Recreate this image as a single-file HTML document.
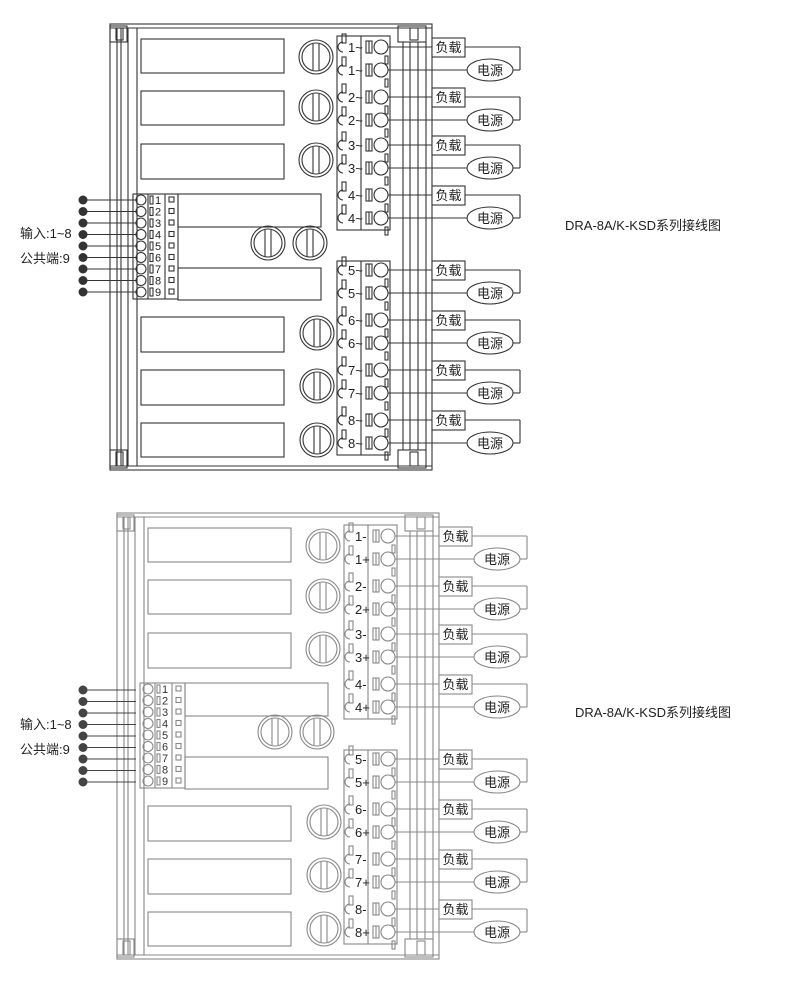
<!DOCTYPE html>
<html><head><meta charset="utf-8"><style>
body{margin:0;background:#fff;}
svg{display:block;font-family:"Liberation Sans","Noto Sans CJK SC",sans-serif;}
</style></head><body>
<svg width="790" height="999" viewBox="0 0 790 999" xmlns="http://www.w3.org/2000/svg">
<defs>
<g id="case" fill="none">
  <!-- outer case -->
  <rect x="110" y="24" width="322" height="446"/>
  <line x1="110" y1="28" x2="432" y2="28"/>
  <line x1="110" y1="466" x2="432" y2="466"/>
  <line x1="117" y1="28" x2="117" y2="466"/>
  <line x1="121" y1="28" x2="121" y2="466"/>
  <line x1="128" y1="28" x2="128" y2="466"/>
  <line x1="137" y1="28" x2="137" y2="466"/>
  <rect x="110" y="26" width="17" height="16"/>
  <rect x="116" y="28" width="7" height="12"/>
  <rect x="110" y="450" width="17" height="18"/>
  <rect x="116" y="452" width="7" height="14"/>
  <rect x="398" y="26" width="28" height="16"/>
  <rect x="410" y="28" width="8" height="12"/>
  <rect x="398" y="450" width="28" height="18"/>
  <rect x="410" y="452" width="8" height="14"/>
  <line x1="403" y1="42" x2="403" y2="450"/>
  <line x1="410" y1="42" x2="410" y2="450"/>
  <line x1="418" y1="42" x2="418" y2="450"/>
  <line x1="426" y1="42" x2="426" y2="450"/>
  <!-- relays -->
  <rect x="141" y="39" width="143" height="34"/>
  <rect x="141" y="91" width="143" height="34"/>
  <rect x="141" y="144" width="143" height="35"/>
  <rect x="141" y="317" width="143" height="35"/>
  <rect x="141" y="370" width="143" height="35"/>
  <rect x="141" y="423" width="143" height="34"/>
  <rect x="178" y="194" width="143" height="33"/>
  <rect x="178" y="268" width="143" height="32"/>
  <!-- knobs -->
  <g id="k"><circle cx="316" cy="57" r="17"/><circle cx="316" cy="57" r="14"/><line x1="313" y1="44" x2="313" y2="70"/><line x1="319" y1="44" x2="319" y2="70"/></g>
  <use href="#k" y="50"/><use href="#k" y="103"/>
  <use href="#k" x="1" y="276"/><use href="#k" x="1" y="329"/><use href="#k" x="1" y="383"/>
  <use href="#k" x="-48" y="186"/><use href="#k" x="-6" y="186"/>
  <!-- input block -->
  <rect x="133" y="194" width="45" height="105"/>
  <line x1="148" y1="194" x2="148" y2="299"/>
  <line x1="165" y1="194" x2="165" y2="299"/>
  <!-- right terminal blocks -->
  <rect x="337" y="36" width="53" height="194"/>
  <rect x="337" y="261" width="53" height="194"/>
  <line x1="361" y1="36" x2="361" y2="230"/>
  <line x1="361" y1="261" x2="361" y2="455"/>
</g>
<g id="inrow" fill="none">
  <circle cx="141" cy="200" r="5"/>
  <rect x="150" y="196" width="3" height="8"/>
  <rect x="169" y="197" width="5" height="5"/>
</g>
<g id="trow" fill="none">
  <path d="M343 42 a5 5 0 0 0 0 10"/>
  <rect x="342" y="30" width="4" height="9" transform="translate(0,4)"/>
  <rect x="366" y="41" width="6" height="12"/>
  <line x1="369" y1="41" x2="369" y2="53"/>
  <circle cx="381" cy="47" r="7"/>
  <rect x="385" y="56" width="3" height="8"/>
</g>
<g id="pair" fill="none">
  <use href="#trow"/>
  <use href="#trow" y="23"/>
  <line x1="388" y1="47" x2="432" y2="47"/>
  <line x1="388" y1="70" x2="467" y2="70"/>
  <rect x="432" y="38" width="33" height="19" fill="#fff"/>
  <line x1="465" y1="47" x2="520" y2="47"/>
  <line x1="520" y1="47" x2="520" y2="70"/>
  <line x1="520" y1="70" x2="513" y2="70"/>
  <ellipse cx="490" cy="70" rx="23" ry="11"/>
</g>
<g id="all">
  <use href="#case"/>
  <use href="#inrow"/><use href="#inrow" y="11.5"/><use href="#inrow" y="23"/><use href="#inrow" y="34.5"/><use href="#inrow" y="46"/><use href="#inrow" y="57.5"/><use href="#inrow" y="69"/><use href="#inrow" y="80.5"/><use href="#inrow" y="92"/>
  <use href="#pair"/><use href="#pair" y="50"/><use href="#pair" y="98"/><use href="#pair" y="148"/>
  <use href="#pair" y="223"/><use href="#pair" y="273"/><use href="#pair" y="323"/><use href="#pair" y="373"/>
</g>
<g id="dots">
  <g id="dot"><circle cx="83" cy="200" r="4.5" stroke="none"/><line x1="83" y1="200" x2="136" y2="200"/></g>
  <use href="#dot" y="11.5"/><use href="#dot" y="23"/><use href="#dot" y="34.5"/><use href="#dot" y="46"/><use href="#dot" y="57.5"/><use href="#dot" y="69"/><use href="#dot" y="80.5"/><use href="#dot" y="92"/>
</g>
</defs>

<!-- TOP DIAGRAM -->
<g stroke="#333" stroke-width="1.1" fill="#333">
  <use href="#all"/>
  <use href="#dots"/>
</g>
<g fill="#222" font-size="11">
  <text x="155" y="204">1</text><text x="155" y="215.5">2</text><text x="155" y="227">3</text><text x="155" y="238.5">4</text><text x="155" y="250">5</text><text x="155" y="261.5">6</text><text x="155" y="273">7</text><text x="155" y="284.5">8</text><text x="155" y="296">9</text>
</g>
<g fill="#222" font-size="13">
  <text x="348" y="52">1~</text><text x="348" y="75">1~</text>
  <text x="348" y="102">2~</text><text x="348" y="125">2~</text>
  <text x="348" y="150">3~</text><text x="348" y="173">3~</text>
  <text x="348" y="200">4~</text><text x="348" y="223">4~</text>
  <text x="348" y="275">5~</text><text x="348" y="298">5~</text>
  <text x="348" y="325">6~</text><text x="348" y="348">6~</text>
  <text x="348" y="375">7~</text><text x="348" y="398">7~</text>
  <text x="348" y="425">8~</text><text x="348" y="448">8~</text>
</g>
<g fill="#222" font-size="13" text-anchor="middle">
  <text x="448.5" y="52">负载</text><text x="490" y="75">电源</text>
  <text x="448.5" y="102">负载</text><text x="490" y="125">电源</text>
  <text x="448.5" y="150">负载</text><text x="490" y="173">电源</text>
  <text x="448.5" y="200">负载</text><text x="490" y="223">电源</text>
  <text x="448.5" y="275">负载</text><text x="490" y="298">电源</text>
  <text x="448.5" y="325">负载</text><text x="490" y="348">电源</text>
  <text x="448.5" y="375">负载</text><text x="490" y="398">电源</text>
  <text x="448.5" y="425">负载</text><text x="490" y="448">电源</text>
</g>
<g fill="#222" font-size="13">
  <text x="20" y="238">输入:1~8</text>
  <text x="20" y="263">公共端:9</text>
  <text x="565" y="230">DRA-8A/K-KSD系列接线图</text>
</g>

<!-- BOTTOM DIAGRAM -->
<g transform="translate(7,489)">
  <g stroke="#888" stroke-width="1.1" fill="#888"><use href="#all"/></g>
  <g fill="#333" font-size="11">
    <text x="155" y="204">1</text><text x="155" y="215.5">2</text><text x="155" y="227">3</text><text x="155" y="238.5">4</text><text x="155" y="250">5</text><text x="155" y="261.5">6</text><text x="155" y="273">7</text><text x="155" y="284.5">8</text><text x="155" y="296">9</text>
  </g>
  <g fill="#222" font-size="13">
    <text x="348" y="52">1-</text><text x="348" y="75">1+</text>
    <text x="348" y="102">2-</text><text x="348" y="125">2+</text>
    <text x="348" y="150">3-</text><text x="348" y="173">3+</text>
    <text x="348" y="200">4-</text><text x="348" y="223">4+</text>
    <text x="348" y="275">5-</text><text x="348" y="298">5+</text>
    <text x="348" y="325">6-</text><text x="348" y="348">6+</text>
    <text x="348" y="375">7-</text><text x="348" y="398">7+</text>
    <text x="348" y="425">8-</text><text x="348" y="448">8+</text>
  </g>
  <g fill="#222" font-size="13" text-anchor="middle">
    <text x="448.5" y="52">负载</text><text x="490" y="75">电源</text>
    <text x="448.5" y="102">负载</text><text x="490" y="125">电源</text>
    <text x="448.5" y="150">负载</text><text x="490" y="173">电源</text>
    <text x="448.5" y="200">负载</text><text x="490" y="223">电源</text>
    <text x="448.5" y="275">负载</text><text x="490" y="298">电源</text>
    <text x="448.5" y="325">负载</text><text x="490" y="348">电源</text>
    <text x="448.5" y="375">负载</text><text x="490" y="398">电源</text>
    <text x="448.5" y="425">负载</text><text x="490" y="448">电源</text>
  </g>
</g>
<g transform="translate(0,490)" stroke="#444" stroke-width="1.1" fill="#444"><use href="#dots"/></g>
<g fill="#222" font-size="13">
  <text x="20" y="729">输入:1~8</text>
  <text x="20" y="754">公共端:9</text>
  <text x="575" y="717">DRA-8A/K-KSD系列接线图</text>
</g>
</svg>
</body></html>
